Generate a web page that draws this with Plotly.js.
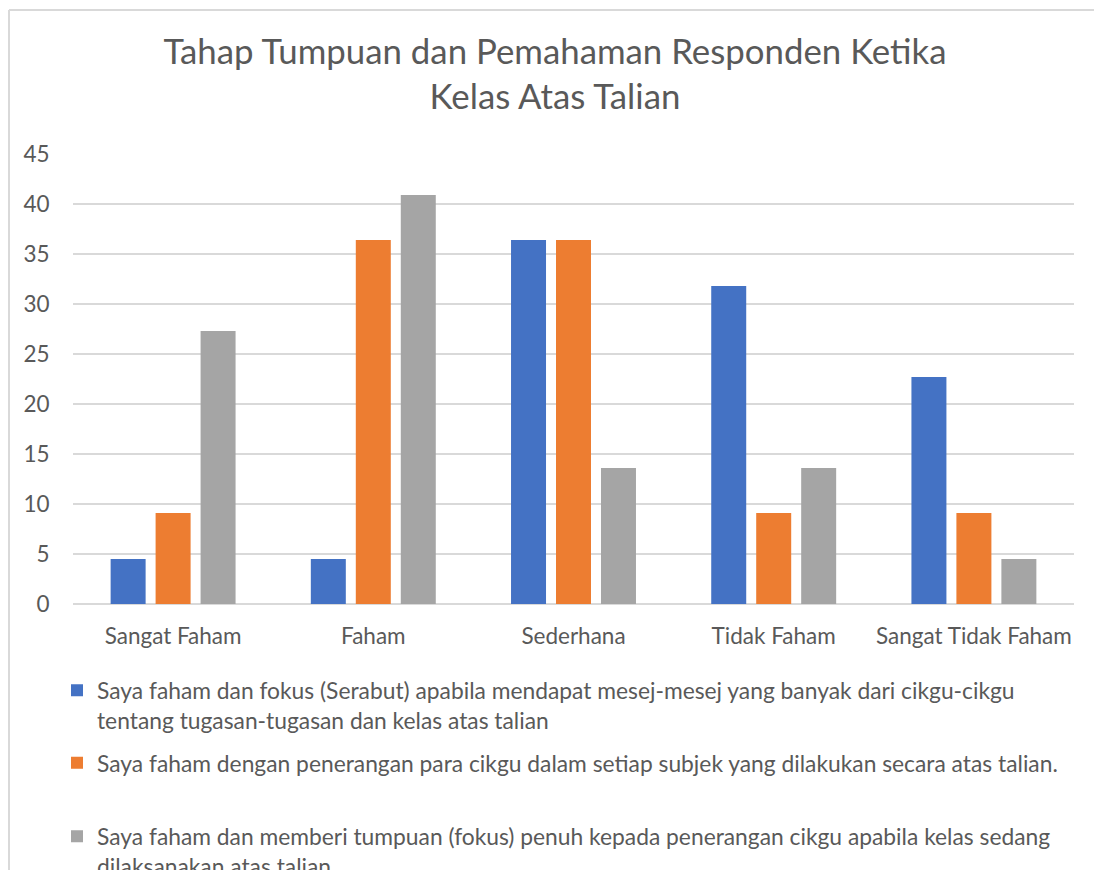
<!DOCTYPE html>
<html>
<head>
<meta charset="utf-8">
<script src="https://cdn.plot.ly/plotly-3.0.1.min.js"></script>
<style>
  html, body { margin: 0; padding: 0; background: #ffffff; overflow: hidden; }
  #chart { width: 1094px; height: 900px; }
</style>
</head>
<body>
<div id="chart"></div>
<script>
const categories = ["Sangat Faham", "Faham", "Sederhana", "Tidak Faham", "Sangat Tidak Faham"];
const seriesNames = [
  "Saya faham dan fokus (Serabut) apabila mendapat mesej-mesej yang banyak dari cikgu-cikgu<br>tentang tugasan-tugasan dan kelas atas talian",
  "Saya faham dengan penerangan para cikgu dalam setiap subjek yang dilakukan secara atas talian.",
  "Saya faham dan memberi tumpuan (fokus) penuh kepada penerangan cikgu apabila kelas sedang<br>dilaksanakan atas talian"
];
const seriesBlue = [4.5, 4.5, 36.4, 31.8, 22.7];
const seriesOrange = [9.1, 36.4, 36.4, 9.1, 9.1];
const seriesGray = [27.3, 40.9, 13.6, 13.6, 4.5];
const yTicks = [0, 5, 10, 15, 20, 25, 30, 35, 40, 45];
const titleText = "Tahap Tumpuan dan Pemahaman Responden Ketika<br>Kelas Atas Talian";

const colors = ["#4472C4", "#ED7D31", "#A5A5A5"];
const FONT = "Lato, 'Open Sans', sans-serif";
const TXT = "#595959";

const allSeries = [seriesBlue, seriesOrange, seriesGray];
const legendIds = ["legend", "legend2", "legend3"];
const traces = allSeries.map((vals, i) => ({
  type: "bar",
  x: categories,
  y: vals,
  name: seriesNames[i],
  legend: legendIds[i],
  marker: { color: colors[i], line: { width: 0 } },
  hoverinfo: "x+y"
}));

// figure is taller than the window; the window shows the top 870px (reference is cropped)
const W = 1094, H = 900;
// plot area in px: left 73, right 1074, top 154, bottom 607
const L = 73, R = 1074, T = 154, B = 607;
const px2x = p => (p - L) / (R - L);
const px2y = p => (B - p) / (B - T);

const legendBase = {
  orientation: "v",
  xanchor: "left",
  yanchor: "middle",
  valign: "top",
  bgcolor: "rgba(0,0,0,0)",
  borderwidth: 0,
  font: { family: FONT, size: 22.8, color: TXT },
  itemclick: false,
  itemdoubleclick: false
};

const layout = {
  width: W,
  height: H,
  paper_bgcolor: "#ffffff",
  plot_bgcolor: "#ffffff",
  margin: { l: L, r: W - R, t: T, b: H - B, pad: 0 },
  font: { family: FONT, color: TXT },
  title: {
    text: titleText,
    font: { family: FONT, size: 34.8, color: TXT },
    x: 555 / W,
    xref: "container",
    xanchor: "center",
    y: 1 - 64 / H,
    yref: "container",
    yanchor: "top"
  },
  barmode: "group",
  bargap: 0.326,
  bargroupgap: 0.222,
  showlegend: true,
  legend: Object.assign({}, legendBase, { x: px2x(57), y: px2y(709) }),
  legend2: Object.assign({}, legendBase, { x: px2x(57), y: px2y(767) }),
  legend3: Object.assign({}, legendBase, { x: px2x(57), y: px2y(856) }),
  xaxis: {
    type: "category",
    showgrid: false,
    showline: false,
    zeroline: false,
    ticks: "outside",
    ticklen: 12,
    tickcolor: "rgba(0,0,0,0)",
    tickfont: { family: FONT, size: 22.5, color: TXT },
    fixedrange: true
  },
  yaxis: {
    range: [0, 45],
    tickvals: yTicks,
    ticktext: yTicks.map(String),
    showgrid: true,
    gridcolor: "#D9D9D9",
    gridwidth: 1.5,
    zeroline: true,
    zerolinecolor: "#D9D9D9",
    zerolinewidth: 1.5,
    showline: false,
    ticks: "outside",
    ticklen: 18,
    tickcolor: "rgba(0,0,0,0)",
    tickfont: { family: FONT, size: 22.5, color: TXT },
    fixedrange: true
  },
  shapes: [
    { type: "line", xref: "paper", yref: "paper", x0: px2x(9), x1: px2x(9), y0: px2y(9), y1: px2y(H + 20), line: { color: "#D9D9D9", width: 2 } },
    { type: "line", xref: "paper", yref: "paper", x0: px2x(9), x1: px2x(W + 20), y0: px2y(9), y1: px2y(9), line: { color: "#D9D9D9", width: 2 } }
  ]
};

Plotly.newPlot("chart", traces, layout, { displayModeBar: false, responsive: false });
</script>
</body>
</html>
